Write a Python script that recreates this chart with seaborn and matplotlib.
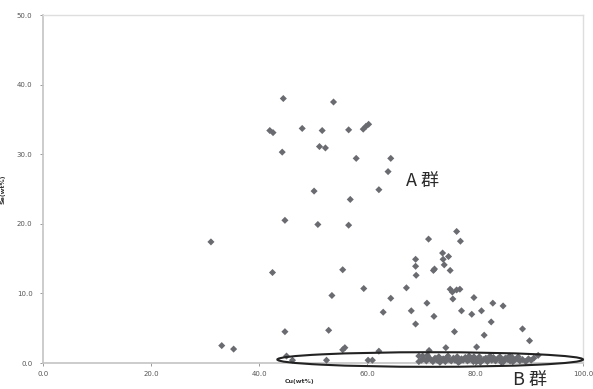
import matplotlib
matplotlib.use("Agg")
import matplotlib.pyplot as plt
from matplotlib.patches import Ellipse
import seaborn as sns
import pandas as pd

# Group A / scattered points (Cu wt%, Se wt%)
cu_a = [44.5, 53.8, 42.0, 42.6, 48.0, 51.7, 56.6, 59.3, 59.8, 60.3,
        44.3, 51.2, 52.3, 58.0, 64.4, 63.9, 62.2, 50.2, 56.9, 44.8,
        50.9, 56.6, 31.1, 42.5, 33.1, 35.3, 44.8, 53.5, 52.9, 55.5,
        55.9, 45.1, 46.2, 52.5, 55.5, 59.4, 63.0, 64.4, 62.2, 60.2,
        61.0, 67.3, 69.0, 69.0, 69.1, 68.2, 69.0, 71.1, 72.3, 72.5,
        72.4, 74.0, 74.1, 74.3, 75.1, 75.4, 75.4, 75.8, 76.6, 77.2,
        75.9, 76.2, 77.5, 79.4, 79.8, 81.2, 83.3, 85.2, 83.0, 81.7,
        88.8, 90.1, 80.3, 74.6, 71.5, 70.3, 70.1, 76.6, 77.3, 71.4,
        91.7, 69.6, 69.6]
se_a = [38.0, 37.5, 33.4, 33.1, 33.7, 33.4, 33.5, 33.6, 34.0, 34.3,
        30.3, 31.1, 30.9, 29.4, 29.4, 27.5, 24.9, 24.7, 23.5, 20.5,
        19.9, 19.8, 17.4, 13.0, 2.5, 2.0, 4.5, 9.7, 4.7, 1.9,
        2.2, 1.0, 0.4, 0.4, 13.4, 10.7, 7.3, 9.3, 1.7, 0.4,
        0.4, 10.8, 14.9, 13.9, 12.6, 7.5, 5.6, 8.6, 13.3, 13.5,
        6.7, 15.8, 14.9, 14.1, 15.3, 13.3, 10.6, 10.2, 10.5, 10.6,
        9.2, 4.5, 7.5, 7.0, 9.4, 7.5, 8.6, 8.2, 5.9, 4.0,
        4.9, 3.2, 2.3, 2.2, 1.8, 1.0, 0.4, 18.9, 17.5, 17.8,
        1.1, 1.0, 0.2]

# Group B: dense cluster near Se = 0
cu_b = [70.5, 71.0, 71.4, 71.8, 72.2, 72.6, 73.0, 73.3, 73.7, 74.1,
        74.5, 74.8, 75.2, 75.6, 76.0, 76.3, 76.7, 77.1, 77.5, 77.8,
        78.2, 78.6, 79.0, 79.3, 79.7, 80.1, 80.5, 80.8, 81.2, 81.6,
        82.0, 82.3, 82.7, 83.1, 83.4, 83.8, 84.2, 84.6, 85.0, 85.3,
        85.7, 86.1, 86.5, 86.9, 87.3, 87.8, 88.3, 88.8, 89.4, 89.9,
        90.4, 90.9, 71.2, 73.5, 75.0, 76.9, 78.9, 81.0, 82.8, 84.9,
        86.4, 88.0, 72.9, 74.4, 77.3, 79.8, 80.3, 83.6, 85.5, 87.0]
se_b = [0.6, 0.3, 0.8, 0.5, 0.2, 0.7, 0.4, 0.9, 0.3, 0.6,
        0.2, 0.8, 0.5, 0.3, 0.7, 0.4, 0.9, 0.2, 0.6, 0.4,
        0.8, 0.3, 0.5, 0.7, 0.2, 0.6, 0.4, 0.9, 0.3, 0.5,
        0.7, 0.2, 0.6, 0.4, 0.8, 0.3, 0.6, 0.9, 0.4, 0.2,
        0.7, 0.5, 0.3, 0.8, 0.4, 0.6, 0.3, 0.5, 0.2, 0.6,
        0.4, 0.7, 1.1, 0.1, 1.0, 0.1, 1.0, 0.1, 1.0, 0.1,
        1.0, 0.9, 0.6, 0.5, 0.3, 0.9, 0.2, 0.5, 0.6, 0.2]

x_ticks = [0, 20, 40, 60, 80, 100]
y_ticks = [0, 10, 20, 30, 40, 50]
x_label = "Cu(wt%)"
y_label = "Se(wt%)"
label_a = "A 群"
label_b = "B 群"

df = pd.DataFrame({"Cu": cu_a + cu_b, "Se": se_a + se_b})

sns.set_style("white")
plt.rcParams['font.family'] = ['DejaVu Sans', 'Noto Sans CJK JP']

fig = plt.figure(figsize=(5.93, 3.89), dpi=100)
ax = fig.add_axes([43/593, 1 - 363/389, 540/593, 348/389])

sns.scatterplot(data=df, x="Cu", y="Se", marker="D", s=13, color="#6a6b70",
                edgecolor="none", linewidth=0, ax=ax, clip_on=False, zorder=3)

ax.set_xlim(0, 100)
ax.set_ylim(0, 50)
ax.set_xticks(x_ticks)
ax.set_yticks(y_ticks)
ax.set_xticklabels([f"{v:.1f}" for v in x_ticks])
ax.set_yticklabels([f"{v:.1f}" for v in y_ticks])
ax.tick_params(axis="both", labelsize=5, colors="#8a8a8a", labelcolor="#555555",
               length=2.5, width=0.6, direction="out")
ax.tick_params(axis="y", pad=5)
ax.tick_params(axis="x", pad=3)
ax.tick_params(bottom=True, left=True)

for side in ["left", "bottom"]:
    ax.spines[side].set_color("#c4c4c4")
    ax.spines[side].set_linewidth(1.2)
for side in ["top", "right"]:
    ax.spines[side].set_color("#dedede")
    ax.spines[side].set_linewidth(1.0)

ax.set_xlabel(x_label, fontsize=4.5, fontweight="bold", color="#333333", labelpad=2)
ax.xaxis.set_label_coords(257/540, -0.045)
ax.set_ylabel(y_label, fontsize=4.5, fontweight="bold", color="#333333", labelpad=8)

ell = Ellipse((71.7, 0.5), 56.6, 2.1, fill=False, edgecolor="#222222",
              linewidth=1.5, clip_on=False, zorder=4)
ax.add_patch(ell)

cjk = ['Noto Sans CJK JP', 'DejaVu Sans']
ax.text(70.2, 26.1, label_a, fontsize=13, color="#2a2a2a", ha="center", va="center",
        family=cjk)
ax.text(90.2, -2.45, label_b, fontsize=13, color="#2a2a2a", ha="center", va="center",
        family=cjk, clip_on=False)

fig.savefig("out.png", dpi=100)
